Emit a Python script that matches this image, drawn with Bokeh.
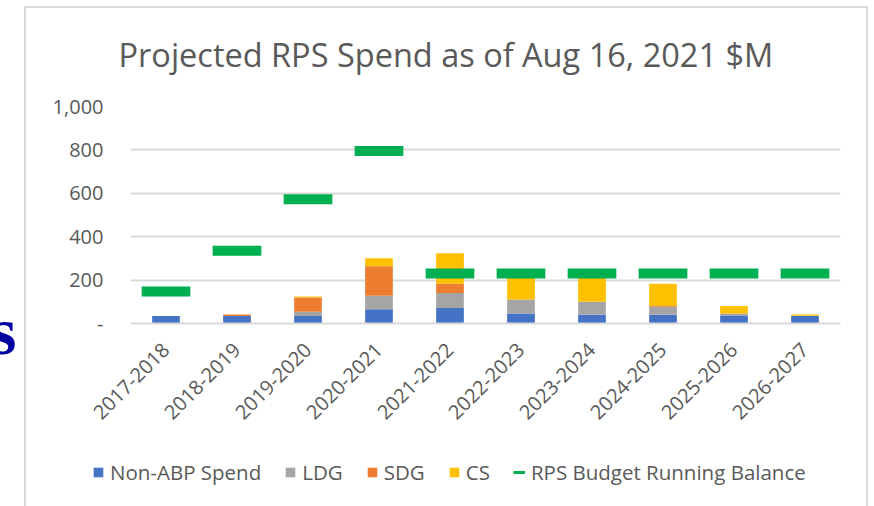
from bokeh.plotting import figure
from bokeh.layouts import column
from bokeh.models import (ColumnDataSource, Legend, LegendItem, FixedTicker, InlineStyleSheet,
                          Range1d)
from bokeh.embed import file_html
from bokeh.resources import INLINE

# ---- data ----
periods = ["2017-2018", "2018-2019", "2019-2020", "2020-2021", "2021-2022",
           "2022-2023", "2023-2024", "2024-2025", "2025-2026", "2026-2027"]
non_abp = [35, 35, 35, 66, 71, 46, 40, 40, 35, 35]
ldg = [0, 0, 19, 62, 70, 65, 60, 37, 11, 0]
sdg = [0, 6, 66, 136, 42, 0, 0, 4, 0, 1]
cs = [0, 0, 4, 37, 141, 129, 135, 102, 35, 5]
budget_balance = [147, 335, 573, 795, 230, 230, 230, 230, 230, 230]
y_ticks = [0, 200, 400, 600, 800, 1000]
y_tick_labels = ["-", "200", "400", "600", "800", "1,000"]

series = ["non_abp", "ldg", "sdg", "cs"]
series_names = ["Non-ABP Spend", "LDG", "SDG", "CS"]
balance_name = "RPS Budget Running Balance"
colors = ["#4472C4", "#A5A5A5", "#ED7D31", "#FFC000"]
green = "#00B050"
text_color = "#595959"
FONT = "Open Sans"

source = ColumnDataSource(dict(periods=periods, non_abp=non_abp, ldg=ldg, sdg=sdg,
                               cs=cs, balance=budget_balance))

# ---------------- main chart ----------------
p = figure(x_range=periods, y_range=(0, 1000), width=874, height=446,
           output_backend="svg", toolbar_location=None,
           min_border_left=130, min_border_right=34, min_border_top=106, min_border_bottom=123)
p.outline_line_color = None
p.background_fill_color = "white"
p.border_fill_color = "white"

p.vbar_stack(series, x="periods", width=0.39, color=colors, source=source, line_color=None)
p.rect(x="periods", y="balance", width=0.686, height=10, height_units="screen",
       fill_color=green, line_color=None, source=source)

p.yaxis.ticker = FixedTicker(ticks=y_ticks)
p.yaxis.major_label_overrides = {t: l for t, l in zip(y_ticks, y_tick_labels)}
p.yaxis.axis_line_color = None
p.yaxis.major_tick_line_color = None
p.yaxis.minor_tick_line_color = None
p.yaxis.major_label_standoff = 21
p.yaxis.major_label_text_font = FONT
p.yaxis.major_label_text_font_size = "20px"
p.yaxis.major_label_text_color = text_color

p.xaxis.axis_line_color = "#D9D9D9"
p.xaxis.axis_line_width = 2
p.xaxis.major_tick_line_color = None
p.xaxis.minor_tick_line_color = None
p.xaxis.major_label_orientation = 0.785398
p.xaxis.major_label_standoff = 17
p.xaxis.major_label_text_font = FONT
p.xaxis.major_label_text_font_size = "20px"
p.xaxis.major_label_text_color = text_color

p.xgrid.grid_line_color = None
p.ygrid.grid_line_color = "#D9D9D9"
p.ygrid.grid_line_width = 2

p.title.text = "Projected RPS Spend as of Aug 16, 2021 $M"
p.title.align = "left"
p.title.offset = -12
p.title.vertical_align = "middle"
p.title.standoff = 58
p.title.text_font = FONT
p.title.text_font_size = "32.5px"
p.title.text_font_style = "normal"
p.title.text_color = text_color

# ---------------- legend strip ----------------
lg = figure(width=874, height=60, output_backend="svg", toolbar_location=None,
            x_axis_type=None, y_axis_type=None, x_range=Range1d(0, 1), y_range=Range1d(0, 1),
            min_border_left=0, min_border_right=0, min_border_top=0, min_border_bottom=0)
lg.outline_line_color = None
lg.background_fill_color = "white"
lg.border_fill_color = "white"

can_unalign = "frame_align" in lg.properties()
if can_unalign:
    p.frame_align = False
    lg.frame_align = False

legend_items = []
for name, c in zip(series_names, colors):
    r = lg.vbar(x=[0.5], top=[float("nan")], width=0.1, fill_color=c, line_color=None)
    legend_items.append(LegendItem(label=name, renderers=[r]))
bl = lg.line(x=[0.5], y=[float("nan")], line_color=green, line_width=3)
legend_items.append(LegendItem(label=balance_name, renderers=[bl]))

legend = Legend(items=legend_items, orientation="horizontal",
                location=(92, 20) if can_unalign else (0, 20),
                glyph_width=12, glyph_height=12, label_standoff=6,
                spacing=23 if can_unalign else 10,
                padding=0, margin=0, border_line_color=None, background_fill_alpha=0,
                label_text_font=FONT, label_text_font_size="20.5px",
                label_text_color=text_color)
lg.add_layout(legend)

# chart-area border and the slide fragment beside it
wrapper_css = InlineStyleSheet(css="""
:host::after { content: ''; position: absolute; left: 24px; top: 6px; width: 840px;
  height: 560px; border: 2px solid #D9D9D9; pointer-events: none; z-index: 5; }
:host::before { content: 's'; position: absolute; left: -10px; top: 297px;
  font-family: 'Liberation Serif'; font-weight: bold; font-size: 68px; line-height: 1;
  color: #0000A0; pointer-events: none; z-index: 5; }
""")
layout = column(p, lg, spacing=0, stylesheets=[wrapper_css])

open("out.html", "w").write(file_html(layout, INLINE))
